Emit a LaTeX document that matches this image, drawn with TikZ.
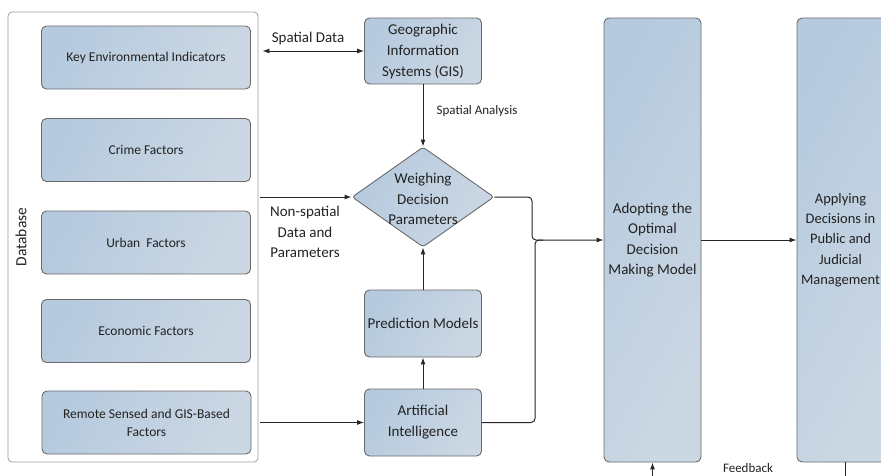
\documentclass[tikz,border=0pt]{standalone}
\usepackage{fontspec}
\setmainfont{Carlito}
\usetikzlibrary{shapes.geometric,arrows.meta,calc}
\definecolor{fillA}{HTML}{B6CADE}
\definecolor{fillB}{HTML}{CBD7E3}
\definecolor{edgeC}{HTML}{6A6A6A}
\definecolor{txtC}{HTML}{222222}
\begin{document}
\begin{tikzpicture}[x=1pt,y=-1pt,
  box/.style={draw=edgeC, line width=0.9pt, rounded corners=5pt,
    left color=fillA, right color=fillB, shading angle=60,
    inner sep=0pt, text=txtC, align=center},
  smallbox/.style={box, minimum width=209pt, minimum height=63pt,
    font=\fontsize{13.5}{18}\selectfont},
  midbox/.style={box, minimum width=117pt, minimum height=67pt,
    font=\fontsize{15}{21}\selectfont},
  tallbox/.style={box, minimum width=97pt, minimum height=444pt,
    font=\fontsize{15}{20.3}\selectfont},
  arr/.style={line width=1pt, draw=black!85, -{Latex[length=7pt,width=5pt]}},
  conn/.style={line width=1pt, draw=black!85},
  lbl/.style={text=txtC, align=center, inner sep=0pt}]
\useasboundingbox (0,0) rectangle (881,475);
\clip (0,0) rectangle (881,475);

% database container
\node[draw=black!38, line width=0.8pt, rounded corners=4pt, minimum width=250pt,
  minimum height=450pt, inner sep=0pt] (db) at (133,237) {};
\node[lbl, rotate=90, font=\fontsize{15.5}{18}\selectfont] (dbl) at (21,237) {Database};

\node[smallbox] (b1) at (146,57.5) {Key Environmental Indicators};
\node[smallbox] (b2) at (146,150) {Crime Factors};
\node[smallbox] (b3) at (146,242.5) {Urban\ \ Factors};
\node[smallbox] (b4) at (146,331) {Economic Factors};
\node[smallbox] (b5) at (146.5,422.5) {Remote Sensed and GIS-Based\\Factors};

\node[midbox, minimum height=66pt] (gis) at (423,51) {Geographic\\Information\\Systems (GIS)};
\node[draw=edgeC, line width=0.9pt, rounded corners=3pt, diamond,
  left color=fillA, right color=fillB, shading angle=60,
  minimum width=142pt, minimum height=100pt, inner sep=0pt] (wd) at (423,197) {};
\node[lbl, font=\fontsize{15}{20.5}\selectfont] (wdt) at (423,199) {Weighing\\Decision\\Parameters};
\node[midbox] (pred) at (423,323.5) {Prediction Models};
\node[midbox] (ai) at (423,422.5) {Artificial\\Intelligence};

\node[tallbox] (adopt) at (652.5,240) {Adopting the\\Optimal\\Decision\\Making Model};
\node[tallbox] (apply) at (845.5,240) {};
\node[lbl, font=\fontsize{14.5}{20.3}\selectfont] (applyt) at (840.5,240) {Applying\\Decisions in\\Public and\\Judicial\\Management};

% labels
\node[lbl, font=\fontsize{15}{18}\selectfont] (sdl) at (308,38) {Spatial Data};
\node[lbl, font=\fontsize{13}{15}\selectfont] (sal) at (477,111) {Spatial Analysis};
\node[lbl, font=\fontsize{15}{20.3}\selectfont] (nsl) at (305,232) {Non-spatial\\Data and\\Parameters};
\node[lbl, font=\fontsize{13}{15}\selectfont] (fbl) at (748,468) {Feedback};

% connectors
\draw[line width=1pt, draw=black!85, {Latex[length=7pt,width=5pt]}-{Latex[length=7pt,width=5pt]}]
  ([xshift=4pt]db.east |- gis.west) -- (gis.west);
\draw[arr] (gis.south) -- (wd.north);
\draw[arr] ([xshift=2pt]db.east |- wd.west) -- (wd.west);
\draw[arr] ([xshift=2pt]db.east |- ai.west) -- (ai.west);
\draw[arr] (ai.north) -- (pred.south);
\draw[arr] (pred.north) -- (wd.south);

\coordinate (j1) at (532,240);
\coordinate (j2) at (535,240);
\draw[arr, rounded corners=4pt] (wd.east) -| (j1) -- (adopt.west);
\draw[conn, rounded corners=4pt] (ai.east) -| (j2) -- ++(8,0);
\draw[arr] (adopt.east) -- (apply.west);

\coordinate (fb) at (0,495);
\draw[arr] (apply.south) -- (apply.south |- fb) -| (adopt.south);
\end{tikzpicture}
\end{document}
